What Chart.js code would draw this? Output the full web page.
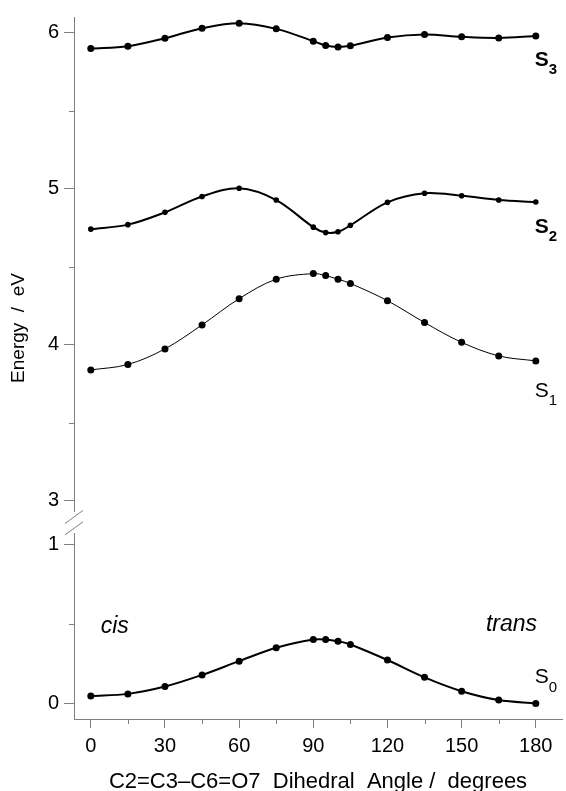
<!DOCTYPE html>
<html>
<head>
<meta charset="utf-8">
<script src="https://cdn.jsdelivr.net/npm/chart.js@4.4.1/dist/chart.umd.min.js"></script>
<style>
  html, body { margin: 0; padding: 0; background: #fff; }
</style>
</head>
<body>
<canvas id="myChart" width="566" height="791"></canvas>
<script>
// dihedral angle (degrees)
const angles = [0, 15, 30, 45, 60, 75, 90, 95, 100, 105, 120, 135, 150, 165, 180];
// energies (eV)
const s0 = [0.046, 0.060, 0.106, 0.179, 0.266, 0.350, 0.402, 0.402, 0.391, 0.371, 0.273, 0.164, 0.077, 0.021, 0.000];
const s1 = [3.838, 3.873, 3.973, 4.127, 4.295, 4.420, 4.456, 4.443, 4.420, 4.393, 4.282, 4.142, 4.015, 3.928, 3.896];
const s2 = [4.741, 4.770, 4.849, 4.951, 5.003, 4.928, 4.754, 4.719, 4.724, 4.766, 4.913, 4.971, 4.955, 4.928, 4.915];
const s3 = [5.900, 5.915, 5.966, 6.030, 6.062, 6.026, 5.947, 5.919, 5.910, 5.917, 5.970, 5.990, 5.975, 5.968, 5.980];

const xMajor = [0, 30, 60, 90, 120, 150, 180];
const xMinor = [15, 45, 75, 105, 135, 165];
const topMajor = [3, 4, 5, 6];
const topMinor = [3.5, 4.5, 5.5];
const botMajor = [0, 1];
const botMinor = [0.5];

const grey = "#808080";
const font = "'Liberation Sans', Arial, sans-serif";

const pts = (vals) => angles.map((a, i) => ({ x: a, y: vals[i] }));

function line(label, vals, axis, width, radius) {
  return {
    label: label,
    data: pts(vals),
    yAxisID: axis,
    borderColor: "#000",
    borderWidth: width,
    pointRadius: radius,
    pointBackgroundColor: "#000",
    pointBorderWidth: 0,
    tension: 0.35,
    fill: false,
  };
}

function drawState(ctx, px, py, sub, bold) {
  ctx.fillStyle = "#000";
  ctx.textAlign = "left";
  ctx.textBaseline = "middle";
  ctx.font = (bold ? "bold " : "") + "21px " + font;
  ctx.fillText("S", px, py);
  const w = ctx.measureText("S").width;
  ctx.font = (bold ? "bold " : "") + "15px " + font;
  ctx.fillText(sub, px + w, py + 10);
}

const extras = {
  id: "extras",
  afterDraw(chart) {
    const { ctx } = chart;
    const { x, yTop, yBot } = chart.scales;
    ctx.save();
    ctx.strokeStyle = grey;
    ctx.lineWidth = 1;
    ctx.beginPath();
    xMinor.forEach((v) => {
      const px = Math.round(x.getPixelForValue(v)) + 0.5;
      ctx.moveTo(px, x.top);
      ctx.lineTo(px, x.top + 5);
    });
    topMinor.forEach((v) => {
      const py = Math.round(yTop.getPixelForValue(v)) + 0.5;
      ctx.moveTo(yTop.right - 5, py);
      ctx.lineTo(yTop.right, py);
    });
    botMinor.forEach((v) => {
      const py = Math.round(yBot.getPixelForValue(v)) + 0.5;
      ctx.moveTo(yBot.right - 5, py);
      ctx.lineTo(yBot.right, py);
    });
    // axis break marks
    const ax = yTop.right;
    [yTop.bottom + 5.5, yBot.top - 5].forEach((cy) => {
      ctx.moveTo(ax - 9, cy + 6.5);
      ctx.lineTo(ax + 9, cy - 6.5);
    });
    ctx.stroke();

    // state labels
    const last = angles.length - 1;
    const lx = x.getPixelForValue(180) - 1;
    drawState(ctx, lx, yTop.getPixelForValue(s3[last]) + 24, "3", true);
    drawState(ctx, lx, yTop.getPixelForValue(s2[last]) + 25, "2", true);
    drawState(ctx, lx, yTop.getPixelForValue(s1[last]) + 30, "1", false);
    drawState(ctx, lx, yBot.getPixelForValue(s0[last]) - 26, "0", false);

    // cis / trans
    ctx.font = "italic 23px " + font;
    ctx.textBaseline = "alphabetic";
    ctx.textAlign = "left";
    ctx.fillText("cis", x.getPixelForValue(4), yBot.getPixelForValue(0.446));
    ctx.textAlign = "right";
    ctx.fillText("trans", x.getPixelForValue(180.5), yBot.getPixelForValue(0.458));

    // y axis title
    ctx.translate(19, 328);
    ctx.rotate(-Math.PI / 2);
    ctx.font = "19px " + font;
    ctx.textAlign = "center";
    ctx.textBaseline = "middle";
    ctx.fillText("Energy  /  eV", 0, 0);
    ctx.restore();
  },
};

function yAxis(min, max, weight, major) {
  return {
    type: "linear",
    position: "left",
    stack: "energy",
    stackWeight: weight,
    min: min,
    max: max,
    afterBuildTicks: (s) => { s.ticks = major.map((v) => ({ value: v })); },
    afterFit: (s) => { s.width = 74; },
    border: { display: major.length > 0, color: grey, width: 1 },
    grid: { drawOnChartArea: false, tickLength: 10, tickColor: grey, display: major.length > 0 },
    ticks: { color: "#000", padding: 5, font: { size: 20, family: font } },
  };
}

const ctx = document.getElementById("myChart").getContext("2d");
const myChart = new Chart(ctx, {
  type: "line",
  data: {
    datasets: [
      line("S3", s3, "yTop", 2, 3.5),
      line("S2", s2, "yTop", 2, 2.8),
      line("S1", s1, "yTop", 1, 3.5),
      line("S0", s0, "yBot", 2, 3.5),
    ],
  },
  options: {
    responsive: false,
    animation: false,
    layout: { padding: { top: 12, left: 0, right: 0, bottom: 0 } },
    plugins: {
      legend: { display: false },
      tooltip: { enabled: false },
    },
    scales: {
      x: {
        type: "linear",
        min: -6.8,
        max: 190.6,
        afterBuildTicks: (s) => { s.ticks = xMajor.map((v) => ({ value: v })); },
        afterFit: (s) => { s.height = 72; },
        border: { color: grey, width: 1 },
        grid: { drawOnChartArea: false, tickLength: 9, tickColor: grey },
        ticks: { color: "#000", padding: 6, maxRotation: 0, font: { size: 20, family: font } },
        title: {
          display: true,
          text: "C2=C3\u2013C6=O7  Dihedral  Angle /  degrees",
          color: "#000",
          padding: { top: 0, bottom: -4 },
          font: { size: 22, family: font },
        },
      },
      // stacked axes are placed bottom-up in key order
      yBot: yAxis(-0.098, 1.07, 187, botMajor),
      yGap: yAxis(0, 1, 22, []),
      yTop: yAxis(2.93, 6.102, 498, topMajor),
    },
  },
  plugins: [extras],
});
</script>
</body>
</html>
